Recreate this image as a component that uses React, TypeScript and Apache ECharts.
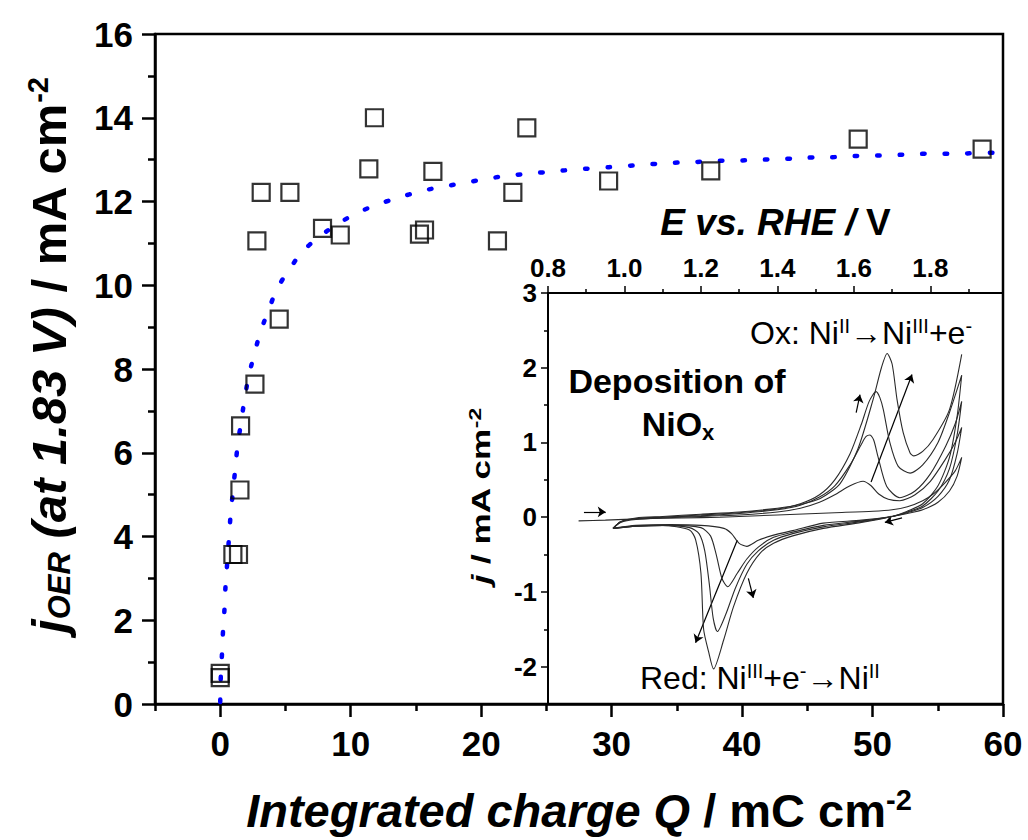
import React, { useEffect, useRef } from "react";
import * as echarts from "echarts";

const FONT = "'Liberation Sans', Arial, sans-serif";

// Main plot: integrated charge Q vs j_OER
const qValues = [0, 0, 0.97, 1.4, 1.51, 1.56, 2.66, 2.81, 3.14, 4.52, 5.34, 7.84, 9.2, 11.39, 11.82, 15.27, 15.66, 16.3, 21.25, 22.43, 23.5, 29.77, 37.6, 48.9, 58.4];
const jOerValues = [0.73, 0.63, 3.57, 3.57, 5.11, 6.64, 7.64, 11.06, 12.22, 9.19, 12.22, 11.36, 11.2, 12.78, 14.0, 11.22, 11.32, 12.72, 11.06, 12.22, 13.76, 12.49, 12.73, 13.49, 13.25];

// Fitted curve (blue dotted)
const fitQ = [0, 0.04, 0.13, 0.21, 0.33, 0.41, 0.54, 0.67, 0.79, 0.97, 1.15, 1.33, 1.59, 1.86, 2.17, 2.61, 3.09, 3.7, 4.39, 5.29, 6.38, 7.87, 9.35, 11.03, 12.72, 14.5, 16.3, 18.08, 19.85, 21.66, 23.45, 25.29, 27.07, 28.9, 30.73, 32.57, 34.38, 36.22, 38.0, 39.85, 41.66, 43.47, 45.31, 47.13, 48.97, 50.76, 52.6, 54.4, 56.3, 58.1, 60];
const fitJ = [0.05, 0.62, 1.17, 1.72, 2.29, 2.84, 3.39, 3.96, 4.49, 5.06, 5.61, 6.16, 6.71, 7.26, 7.8, 8.35, 8.88, 9.4, 9.92, 10.37, 10.82, 11.22, 11.53, 11.8, 12.0, 12.17, 12.31, 12.41, 12.51, 12.6, 12.66, 12.71, 12.76, 12.8, 12.84, 12.88, 12.92, 12.94, 12.97, 12.98, 13.0, 13.02, 13.05, 13.06, 13.09, 13.1, 13.12, 13.14, 13.14, 13.16, 13.17];

const xMajorTicks = [0, 10, 20, 30, 40, 50, 60];
const xMinorTicks = [-5, 5, 15, 25, 35, 45, 55];
const yMajorTicks = [0, 2, 4, 6, 8, 10, 12, 14, 16];

// Inset: CV cycles (E vs RHE / V, j / mA cm-2)
const insetXMajor = [0.8, 1.0, 1.2, 1.4, 1.6, 1.8];
const insetXMinor = [0.9, 1.1, 1.3, 1.5, 1.7, 1.9];
const insetYMajor = [-2, -1, 0, 1, 2, 3];
const insetYMinor = [-1.5, -0.5, 0.5, 1.5, 2.5];

const cycle1 = [
  [0.88, -0.05], [0.95, -0.04], [1.05, -0.02], [1.15, -0.01], [1.25, 0.0], [1.35, 0.02], [1.45, 0.04], [1.55, 0.06], [1.65, 0.08], [1.7, 0.1], [1.74, 0.14], [1.78, 0.22], [1.81, 0.32], [1.84, 0.47], [1.865, 0.62], [1.882, 0.8],
  [1.87, 0.55], [1.85, 0.35], [1.82, 0.2], [1.78, 0.1], [1.74, 0.05], [1.7, 0.01], [1.62, -0.04], [1.52, -0.08], [1.44, -0.18], [1.39, -0.24], [1.35, -0.31], [1.32, -0.39], [1.3, -0.35], [1.28, -0.22], [1.26, -0.15], [1.2, -0.11], [1.12, -0.1], [1.03, -0.11], [0.97, -0.15],
];
const cycle2 = [
  [0.97, -0.15], [0.99, -0.07], [1.03, -0.03], [1.1, -0.01], [1.2, 0.01], [1.3, 0.03], [1.4, 0.07], [1.46, 0.12], [1.51, 0.2], [1.55, 0.3], [1.59, 0.42], [1.624, 0.48], [1.645, 0.42], [1.665, 0.31], [1.69, 0.24], [1.72, 0.22], [1.76, 0.3], [1.8, 0.48], [1.84, 0.78], [1.865, 1.0], [1.882, 1.2],
  [1.87, 0.85], [1.85, 0.5], [1.82, 0.28], [1.78, 0.13], [1.74, 0.06], [1.7, 0.01], [1.62, -0.05], [1.52, -0.11], [1.44, -0.2], [1.39, -0.27], [1.35, -0.4], [1.32, -0.56], [1.295, -0.75], [1.27, -0.93], [1.255, -0.82], [1.24, -0.5], [1.225, -0.25], [1.2, -0.14], [1.12, -0.11], [1.03, -0.12], [0.97, -0.15],
];
const cycle3 = [
  [0.97, -0.15], [0.99, -0.06], [1.03, -0.02], [1.1, 0.0], [1.2, 0.02], [1.3, 0.05], [1.4, 0.1], [1.46, 0.16], [1.51, 0.27], [1.55, 0.42], [1.59, 0.7], [1.62, 0.98], [1.632, 1.08], [1.642, 1.1], [1.652, 1.03], [1.663, 0.81], [1.686, 0.41], [1.72, 0.26], [1.76, 0.35], [1.8, 0.58], [1.84, 0.95], [1.865, 1.25], [1.882, 1.55],
  [1.87, 1.1], [1.85, 0.65], [1.82, 0.35], [1.78, 0.15], [1.74, 0.07], [1.7, 0.01], [1.62, -0.06], [1.52, -0.13], [1.44, -0.22], [1.39, -0.31], [1.35, -0.45], [1.32, -0.63], [1.29, -0.95], [1.265, -1.3], [1.243, -1.53], [1.232, -1.35], [1.222, -0.9], [1.21, -0.45], [1.195, -0.22], [1.17, -0.14], [1.1, -0.11], [1.03, -0.12], [0.97, -0.15],
];
const cycle4 = [
  [0.97, -0.15], [0.99, -0.06], [1.03, -0.02], [1.1, 0.0], [1.2, 0.03], [1.3, 0.06], [1.4, 0.11], [1.46, 0.18], [1.51, 0.3], [1.55, 0.5], [1.59, 0.85], [1.62, 1.25], [1.64, 1.55], [1.658, 1.68], [1.668, 1.6], [1.677, 1.44], [1.694, 1.0], [1.716, 0.68], [1.747, 0.59], [1.78, 0.7], [1.82, 1.0], [1.85, 1.4], [1.882, 1.9],
  [1.87, 1.35], [1.85, 0.8], [1.82, 0.42], [1.78, 0.18], [1.74, 0.08], [1.7, 0.01], [1.62, -0.07], [1.52, -0.15], [1.44, -0.25], [1.39, -0.35], [1.355, -0.48], [1.32, -0.75], [1.285, -1.2], [1.259, -1.65], [1.233, -2.03], [1.22, -1.8], [1.207, -1.5], [1.2, -0.75], [1.186, -0.3], [1.17, -0.17], [1.1, -0.11], [1.03, -0.12], [0.97, -0.15],
];
const cycle5 = [
  [0.97, -0.15], [0.99, -0.06], [1.03, -0.01], [1.1, 0.01], [1.2, 0.04], [1.3, 0.07], [1.4, 0.12], [1.46, 0.17], [1.512, 0.25], [1.564, 0.45], [1.611, 0.92], [1.65, 1.57], [1.672, 2.0], [1.687, 2.19], [1.7, 2.05], [1.713, 1.57], [1.729, 1.13], [1.747, 0.86], [1.757, 0.82], [1.78, 0.88], [1.807, 1.04], [1.85, 1.44], [1.882, 2.18],
];
const cycles = [cycle1, cycle2, cycle3, cycle4, cycle5];

// Scan-direction arrows in the inset (start, end) in data units
const arrowStarts = [[0.894, 0.07], [1.606, 1.4], [1.645, 0.47], [1.726, -0.01], [1.324, -0.82], [1.295, -0.31]];
const arrowEnds = [[0.951, 0.07], [1.616, 1.64], [1.752, 1.91], [1.681, -0.07], [1.337, -1.08], [1.186, -1.68]];

export default function App() {
  const ref = useRef<HTMLDivElement>(null);
  useEffect(() => {
    const chart = echarts.init(ref.current as HTMLDivElement, null, { renderer: "svg" });
    const black = "#000";
    const mainLabel = { color: black, fontFamily: FONT, fontWeight: "bold", fontSize: 35 };
    const insetLabel = { color: black, fontFamily: FONT, fontWeight: "bold", fontSize: 26 };

    const cvSeries = cycles.map((c, i) => ({
      type: "line",
      xAxisIndex: 2,
      yAxisIndex: 1,
      data: c,
      showSymbol: false,
      smooth: 0.25,
      lineStyle: { color: "#2a2a2a", width: 1.1 },
      silent: true,
      z: 5,
      markLine:
        i === 0
          ? {
              silent: true,
              symbol: ["none", "arrow"],
              symbolSize: 8,
              label: { show: false },
              lineStyle: { color: black, width: 1.2, type: "solid" },
              data: arrowStarts.map((s, k) => [
                { coord: s },
                { coord: arrowEnds[k] },
              ]),
            }
          : undefined,
    }));

    const option: any = {
      animation: false,
      backgroundColor: "#fff",
      textStyle: { fontFamily: FONT },
      grid: [
        { left: 155, top: 34, width: 848, height: 670, show: true, borderColor: black, borderWidth: 2.5, backgroundColor: "transparent", containLabel: false, outerBoundsMode: "none" },
        { left: 548, top: 293, width: 455, height: 411, show: false, containLabel: false, outerBoundsMode: "none" },
      ],
      xAxis: [
        {
          gridIndex: 0, type: "value", min: -5, max: 60, position: "bottom",
          axisLine: { show: true, onZero: false, lineStyle: { color: black, width: 2.5 } },
          axisTick: { show: true, customValues: xMajorTicks, length: 13, lineStyle: { color: black, width: 2.5 } },
          axisLabel: { ...mainLabel, customValues: xMajorTicks, margin: 22 },
          splitLine: { show: false },
          name: "{i|Integrated charge Q}{b| / mC cm}{sup|-2}",
          nameLocation: "middle",
          nameGap: 81,
          nameTextStyle: {
            rich: {
              i: { fontFamily: FONT, fontSize: 47, fontWeight: "bold", fontStyle: "italic", color: black },
              b: { fontFamily: FONT, fontSize: 47, fontWeight: "bold", color: black },
              sup: { fontFamily: FONT, fontSize: 29, fontWeight: "bold", color: black, verticalAlign: "top", padding: [0, 0, 22, 0] },
            },
          },
        },
        {
          gridIndex: 0, type: "value", min: -5, max: 60, position: "bottom",
          axisLine: { show: false, onZero: false },
          axisTick: { show: true, customValues: xMinorTicks, length: 7, lineStyle: { color: black, width: 2.5 } },
          axisLabel: { show: false },
          splitLine: { show: false },
        },
        {
          gridIndex: 1, type: "value", min: 0.8, max: 1.99, position: "top",
          axisLine: { show: true, onZero: false, lineStyle: { color: black, width: 2 } },
          axisTick: { show: true, customValues: insetXMajor, length: 7, lineStyle: { color: black, width: 1.5 } },
          axisLabel: { ...insetLabel, customValues: insetXMajor, margin: 12, formatter: (v: number) => v.toFixed(1) },
          splitLine: { show: false },
          name: "{i|E vs. RHE /}{b| V}",
          nameLocation: "middle",
          nameGap: 52,
          nameTextStyle: {
            rich: {
              i: { fontFamily: FONT, fontSize: 37, fontWeight: "bold", fontStyle: "italic", color: black },
              b: { fontFamily: FONT, fontSize: 37, fontWeight: "bold", color: black },
            },
          },
        },
        {
          gridIndex: 1, type: "value", min: 0.8, max: 1.99, position: "top",
          axisLine: { show: false, onZero: false },
          axisTick: { show: true, customValues: insetXMinor, length: 4, lineStyle: { color: black, width: 1.5 } },
          axisLabel: { show: false },
          splitLine: { show: false },
        },
      ],
      yAxis: [
        {
          gridIndex: 0, type: "value", min: 0, max: 16, interval: 2, position: "left",
          axisLine: { show: true, onZero: false, lineStyle: { color: black, width: 2.5 } },
          axisTick: { show: true, length: 13, lineStyle: { color: black, width: 2.5 } },
          minorTick: { show: true, splitNumber: 2, length: 7, lineStyle: { color: black, width: 2.5 } },
          axisLabel: { ...mainLabel, customValues: yMajorTicks, margin: 22 },
          splitLine: { show: false },
          minorSplitLine: { show: false },
          name: "{i|j}{sub|OER}{i| (at 1.83 V)}{b| / mA cm}{sup|-2}",
          nameLocation: "middle",
          nameGap: 80,
          nameTextStyle: {
            padding: [0, 0, 0, 28],
            rich: {
              i: { fontFamily: FONT, fontSize: 49, fontWeight: "bold", fontStyle: "italic", color: black },
              sub: { fontFamily: FONT, fontSize: 31, fontWeight: "bold", fontStyle: "italic", color: black, verticalAlign: "bottom", padding: [14, 0, 0, 0] },
              b: { fontFamily: FONT, fontSize: 49, fontWeight: "bold", color: black },
              sup: { fontFamily: FONT, fontSize: 29, fontWeight: "bold", color: black, verticalAlign: "top", padding: [0, 0, 23, 0] },
            },
          },
        },
        {
          gridIndex: 1, type: "value", min: -2.5, max: 3, position: "left",
          axisLine: { show: true, onZero: false, lineStyle: { color: black, width: 2 } },
          axisTick: { show: true, customValues: insetYMajor, length: 7, lineStyle: { color: black, width: 1.5 } },
          axisLabel: { ...insetLabel, customValues: insetYMajor, margin: 11 },
          splitLine: { show: false },
        },
        {
          gridIndex: 1, type: "value", min: -2.5, max: 3, position: "left",
          axisLine: { show: false, onZero: false },
          axisTick: { show: true, customValues: insetYMinor, length: 4, lineStyle: { color: black, width: 1.5 } },
          axisLabel: { show: false },
          splitLine: { show: false },
        },
      ],
      series: [
        {
          type: "line",
          name: "fit",
          xAxisIndex: 0,
          yAxisIndex: 0,
          data: fitQ.map((q, i) => [q, fitJ[i]]),
          showSymbol: false,
          smooth: true,
          lineStyle: { color: "#0000ff", width: 4.5, type: [2.5, 20], cap: "round" },
          z: 3,
        },
        {
          type: "scatter",
          name: "jOER",
          xAxisIndex: 0,
          yAxisIndex: 0,
          data: qValues.map((q, i) => [q, jOerValues[i]]),
          symbol: "rect",
          symbolSize: 17,
          itemStyle: { color: "rgba(255,255,255,0)", borderColor: black, borderWidth: 2.2 },
          z: 4,
        },
        ...cvSeries,
      ],
      graphic: [
        {
          type: "text", x: 481, y: 496, rotation: Math.PI / 2, scaleX: 1.35, silent: true,
          style: {
            text: "{i|j}{b| / mA cm}{sup|-2}", align: "center", verticalAlign: "middle",
            rich: {
              i: { fill: black, fontFamily: FONT, fontSize: 26, fontWeight: "bold", fontStyle: "italic" },
              b: { fill: black, fontFamily: FONT, fontSize: 26, fontWeight: "bold" },
              sup: { fill: black, fontFamily: FONT, fontSize: 17, fontWeight: "bold", verticalAlign: "top", padding: [0, 0, 12, 0] },
            },
          },
        },
        {
          type: "text", x: 677, y: 381, silent: true,
          style: { text: "Deposition of", fill: black, font: `bold 34px ${FONT}`, align: "center", verticalAlign: "middle" },
        },
        {
          type: "text", x: 678, y: 424, silent: true,
          style: {
            text: "{b|NiO}{s|x}", align: "center", verticalAlign: "middle",
            rich: {
              b: { fill: black, fontFamily: FONT, fontSize: 34, fontWeight: "bold" },
              s: { fill: black, fontFamily: FONT, fontSize: 22, fontWeight: "bold", verticalAlign: "bottom", padding: [16, 0, 0, 0] },
            },
          },
        },
        {
          type: "text", x: 750, y: 333, silent: true,
          style: {
            text: "{n|Ox: Ni}{p|II}{n|\u2192Ni}{p|III}{n|+e}{p|-}", align: "left", verticalAlign: "middle",
            rich: {
              n: { fill: black, fontFamily: FONT, fontSize: 32 },
              p: { fill: black, fontFamily: FONT, fontSize: 20, verticalAlign: "top", padding: [0, 0, 14, 0] },
            },
          },
        },
        {
          type: "text", x: 640, y: 678, silent: true,
          style: {
            text: "{n|Red: Ni}{p|III}{n|+e}{p|-}{n|\u2192Ni}{p|II}", align: "left", verticalAlign: "middle",
            rich: {
              n: { fill: black, fontFamily: FONT, fontSize: 32 },
              p: { fill: black, fontFamily: FONT, fontSize: 20, verticalAlign: "top", padding: [0, 0, 14, 0] },
            },
          },
        },
      ],
    };
    chart.setOption(option);
    return () => chart.dispose();
  }, []);
  return (
    <div
      ref={ref}
      style={{ position: "absolute", left: 0, top: 0, width: 1028, height: 840, background: "#fff" }}
    />
  );
}
